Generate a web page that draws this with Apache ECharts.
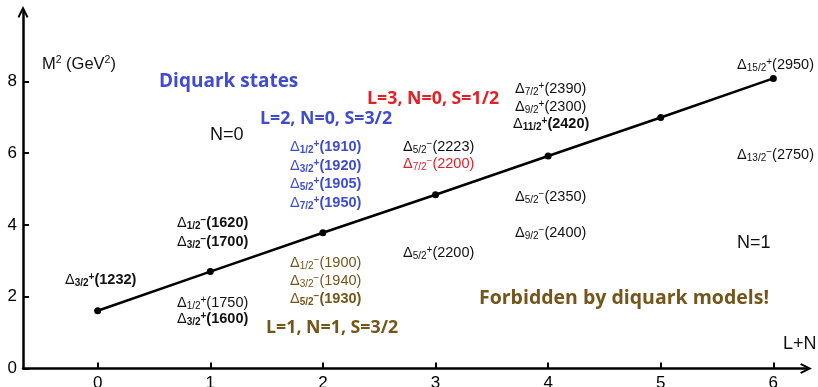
<!DOCTYPE html>
<html>
<head>
<meta charset="utf-8">
<script src="https://cdn.jsdelivr.net/npm/echarts@6/dist/echarts.min.js"></script>
<style>
  html, body { margin: 0; padding: 0; background: #fff; }
  #chart { width: 818px; height: 387px; }
</style>
</head>
<body>
<div id="chart"></div>
<script>
// Regge trajectory of the Delta resonances: M^2 (GeV^2) against L+N
const trajLN = [0, 1, 2, 3, 4, 5, 6];
const trajM2 = [1.61, 2.70, 3.78, 4.84, 5.92, 6.99, 8.08];
const xTickValues = [0, 1, 2, 3, 4, 5, 6];
const yTickValues = [0, 2, 4, 6, 8];

// Delta states: spin J, parity, mass (MeV), bold, colour group
const stateJ      = ['3/2', '1/2', '3/2', '1/2', '3/2',
                     '1/2', '3/2', '5/2', '7/2',
                     '1/2', '3/2', '5/2',
                     '5/2', '7/2', '5/2',
                     '7/2', '9/2', '11/2', '5/2', '9/2',
                     '15/2', '13/2'];
const stateParity = ['+', '−', '−', '+', '+',
                     '+', '+', '+', '+',
                     '−', '−', '−',
                     '−', '−', '+',
                     '+', '+', '+', '−', '−',
                     '+', '−'];
const stateMass   = ['1232', '1620', '1700', '1750', '1600',
                     '1910', '1920', '1905', '1950',
                     '1900', '1940', '1930',
                     '2223', '2200', '2200',
                     '2390', '2300', '2420', '2350', '2400',
                     '2950', '2750'];
const stateBold   = [true, true, true, false, true,
                     true, true, true, true,
                     false, false, true,
                     false, false, false,
                     false, false, true, false, false,
                     false, false];
const stateGroup  = ['k', 'k', 'k', 'k', 'k',
                     'blue', 'blue', 'blue', 'blue',
                     'brown', 'brown', 'brown',
                     'k', 'red', 'k',
                     'k', 'k', 'k', 'k', 'k',
                     'k', 'k'];
// label anchors (left edge, vertical centre) in axis units
const stateAnchor = [[-0.29, 2.46], [0.704, 4.05], [0.704, 3.53], [0.704, 1.82], [0.704, 1.38],
                     [1.708, 6.17], [1.708, 5.64], [1.708, 5.14], [1.708, 4.61],
                     [1.708, 2.94], [1.708, 2.44], [1.708, 1.94],
                     [2.711, 6.17], [2.711, 5.70], [2.711, 3.22],
                     [3.706, 7.79], [3.706, 7.28], [3.688, 6.81], [3.706, 4.78], [3.706, 3.77],
                     [5.678, 8.45], [5.678, 5.95]];

// headings and other free text
const noteText   = ['Diquark states', 'N=0', 'L=2, N=0, S=3/2', 'L=3, N=0, S=1/2',
                    'L=1, N=1, S=3/2', 'Forbidden by diquark models!', 'L+N', 'N=1'];
const noteGroup  = ['blue', 'k', 'blue', 'red', 'brown', 'brown', 'k', 'k'];
const noteKind   = ['title', 'plain', 'sub', 'sub', 'sub', 'head', 'plain', 'plain'];
const noteAnchor = [[0.545, 7.98], [0.997, 6.50], [1.441, 6.95], [2.392, 7.51],
                    [1.495, 1.13], [3.386, 1.96], [6.086, 0.68], [5.678, 3.50]];

const palette = { k: '#111111', blue: '#3f4ccf', red: '#e41f26', brown: '#74561a' };
const SANS = 'Liberation Sans';
const HEAD = 'Open Sans';

function deltaRich(color) {
  const base = { fontFamily: SANS, color: color };
  return {
    d:  Object.assign({ fontSize: 14.5, lineHeight: 16 }, base),
    s:  Object.assign({ fontSize: 10, lineHeight: 10, verticalAlign: 'bottom' }, base),
    sb: Object.assign({ fontSize: 10, lineHeight: 10, verticalAlign: 'bottom', fontWeight: 'bold' }, base),
    p:  Object.assign({ fontSize: 10, lineHeight: 13.5, verticalAlign: 'top' }, base),
    pb: Object.assign({ fontSize: 10, lineHeight: 13.5, verticalAlign: 'top', fontWeight: 'bold' }, base),
    n:  Object.assign({ fontSize: 14.5, lineHeight: 16 }, base),
    nb: Object.assign({ fontSize: 14.5, lineHeight: 16, fontWeight: 'bold' }, base)
  };
}

const stateItems = stateJ.map(function (j, i) {
  const b = stateBold[i];
  return {
    value: stateAnchor[i],
    label: {
      formatter: '{d|Δ}{' + (b ? 'sb' : 's') + '|' + j + '}{' + (b ? 'pb' : 'p') + '|' +
                 stateParity[i] + '}{' + (b ? 'nb' : 'n') + '|(' + stateMass[i] + ')}',
      rich: deltaRich(palette[stateGroup[i]])
    }
  };
});

const noteStyles = {
  title: { fontFamily: HEAD, fontWeight: 'bold', fontSize: 19 },
  head:  { fontFamily: HEAD, fontWeight: 'bold', fontSize: 19.5 },
  sub:   { fontFamily: HEAD, fontWeight: 'bold', fontSize: 17.8 },
  plain: { fontFamily: SANS, fontWeight: 'normal', fontSize: 18 }
};

const noteItems = noteText.map(function (t, i) {
  return {
    value: noteAnchor[i],
    label: Object.assign({ formatter: t, color: palette[noteGroup[i]] }, noteStyles[noteKind[i]])
  };
});

// vertical axis title with superscripts
noteItems.push({
  value: [-0.495, 8.48],
  label: {
    formatter: '{t|M}{p|2}{t| (GeV}{p|2}{t|)}',
    rich: {
      t: { fontFamily: SANS, fontSize: 16.5, lineHeight: 18, color: palette.k },
      p: { fontFamily: SANS, fontSize: 10.5, lineHeight: 12, verticalAlign: 'top', color: palette.k }
    }
  }
});

const chevron = 'path://M0,10 L5,0 L10,10 L8.6,11.2 L5,4.2 L1.4,11.2 Z';

const axisCommon = {
  type: 'value',
  axisLine: {
    onZero: false,
    lineStyle: { color: '#000', width: 2.5 },
    symbol: ['none', chevron],
    symbolSize: [11, 12]
  },
  axisTick: { inside: true, length: 6, lineStyle: { color: '#000', width: 2 } },
  splitLine: { show: false },
  axisLabel: { color: '#000', fontFamily: SANS, fontSize: 17 }
};

const chart = echarts.init(document.getElementById('chart'), null, { renderer: 'canvas' });
chart.setOption({
  animation: false,
  backgroundColor: '#fff',
  grid: { left: 23, right: 12, top: 12, bottom: 18.5, containLabel: false, outerBoundsMode: 'none' },
  xAxis: Object.assign({}, axisCommon, {
    min: -0.663, max: 6.29,
    axisTick: Object.assign({}, axisCommon.axisTick, { customValues: xTickValues }),
    axisLabel: Object.assign({}, axisCommon.axisLabel, { customValues: xTickValues, margin: 6 })
  }),
  yAxis: Object.assign({}, axisCommon, {
    min: 0, max: 9.93,
    axisTick: Object.assign({}, axisCommon.axisTick, { customValues: yTickValues }),
    axisLabel: Object.assign({}, axisCommon.axisLabel, { customValues: yTickValues, margin: 6 })
  }),
  series: [
    {
      type: 'line',
      data: trajLN.map(function (x, i) { return [x, trajM2[i]]; }),
      symbol: 'circle',
      symbolSize: 7,
      showSymbol: true,
      itemStyle: { color: '#000', opacity: 1 },
      lineStyle: { color: '#000', width: 2.5 },
      silent: true,
      z: 3
    },
    {
      type: 'scatter',
      data: stateItems.concat(noteItems),
      symbolSize: 0,
      silent: true,
      itemStyle: { opacity: 1 },
      label: { show: true, position: 'right', distance: 0, opacity: 1 },
      z: 5
    }
  ]
});
</script>
</body>
</html>
